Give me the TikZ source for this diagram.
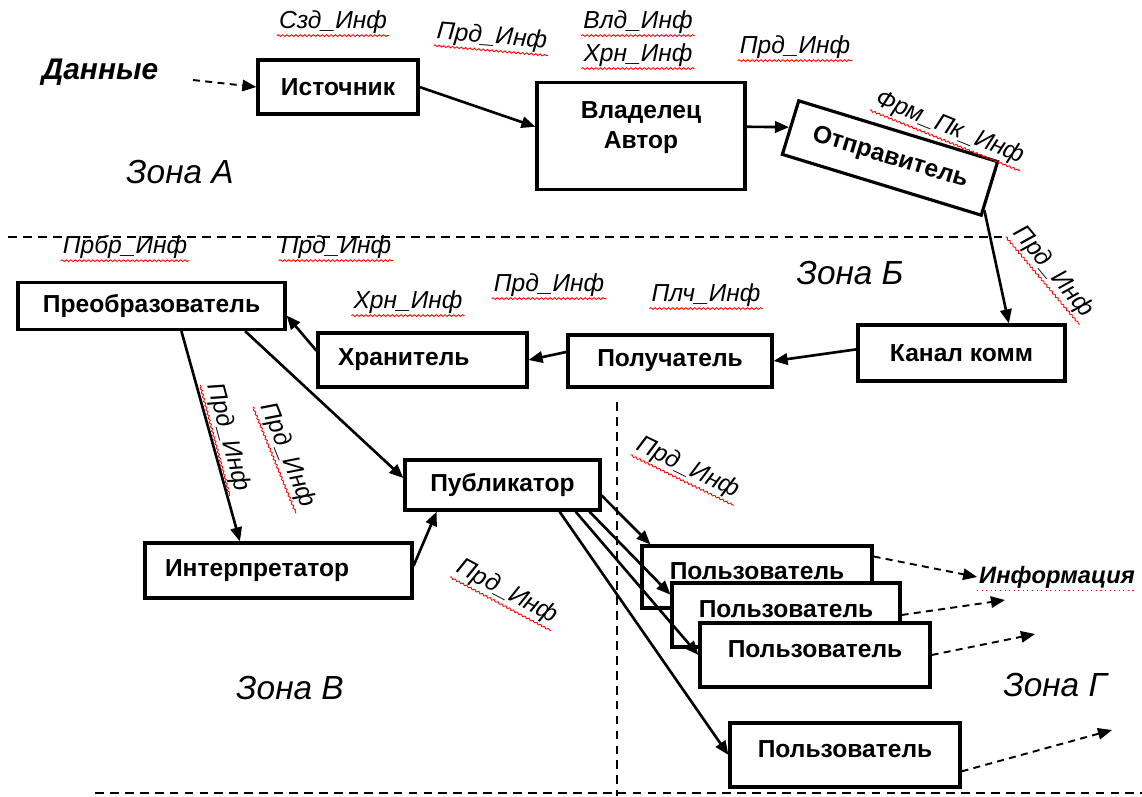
\documentclass[tikz,border=0pt]{standalone}
\usepackage{fontspec}
\setmainfont{Liberation Sans}
\usetikzlibrary{arrows.meta}
\usetikzlibrary{decorations.pathmorphing}

\begin{document}
\begin{tikzpicture}[
			     x=0.02cm, y=-0.02cm,
			     >={Triangle[length=8pt,width=6.5pt]},
			     blok/.style={draw, fill=white, line width=1.8pt, inner xsep=0.4cm,
			       font=\fontsize{14}{17}\selectfont\bfseries},
			     metka/.style={font=\fontsize{14}{16}\selectfont\itshape, inner sep=1pt,
			       append after command={(\tikzlastnode.south west) edge[draw=red, line width=0.5pt,
			         decorate, decoration={snake, amplitude=0.5pt, segment length=2.5pt}] (\tikzlastnode.south east)}},
			     zona/.style={font=\fontsize{19}{22}\selectfont\itshape},
			     potok/.style={->, line width=1.5pt},
			     vyhod/.style={->, dash pattern=on 4pt off 3pt, line width=1.1pt},
			     granica/.style={dash pattern=on 5pt off 3.5pt, line width=1.1pt}
			     ]
\useasboundingbox (0,0) rectangle (1142,796);
% zone A
\node[font=\fontsize{17}{20}\selectfont\bfseries\itshape] (dannye) at (100,72) {Данные};
\node[blok, minimum width=3.2cm, minimum height=1.08cm] (istochnik) at (338,87) {Источник};
\node[blok, minimum width=4.16cm, minimum height=2.14cm, align=center, text depth=0.45cm] (vladelec) at (641,136) {Владелец\\Автор};
\node[blok, rotate=-17, minimum width=4.16cm, minimum height=1.12cm] (otpravitel) at (890,158) {Отправитель};
% zone B
\node[blok, minimum width=4.14cm, minimum height=1.12cm] (kanal) at (961.5,353) {Канал комм};
\node[blok, minimum width=4.08cm, minimum height=1.04cm] (poluchatel) at (670,361) {Получатель};
\node[blok, minimum width=4.18cm, minimum height=1.08cm, text width=3.38cm, align=left] (hranitel) at (422.5,360) {Хранитель};
\node[blok, minimum width=5.34cm, minimum height=0.94cm] (preobr) at (151.5,306) {Преобразователь};
% zone V
\node[blok, minimum width=3.9cm, minimum height=1.0cm] (publ) at (502.5,485) {Публикатор};
\node[blok, minimum width=5.34cm, minimum height=1.1cm, text width=4.54cm, align=left] (interp) at (278.5,570.5) {Интерпретатор};
% zone G
\node[blok, minimum width=4.6cm, minimum height=1.24cm, text height=9pt, text depth=6pt] (u1) at (757,577) {Пользователь};
\node[blok, minimum width=4.56cm, minimum height=1.28cm, text height=9pt, text depth=6pt] (u2) at (786,615) {Пользователь};
\node[blok, minimum width=4.6cm, minimum height=1.28cm, text height=9pt, text depth=6pt] (u3) at (815,655) {Пользователь};
\node[blok, minimum width=4.6cm, minimum height=1.28cm, text height=9pt, text depth=6pt] (u4) at (845,755) {Пользователь};
\node[font=\fontsize{13.5}{16}\selectfont\bfseries\itshape, inner sep=1pt,
      append after command={(\tikzlastnode.south west) edge[draw=red, line width=0.6pt, dotted] (\tikzlastnode.south east)}] (info) at (1057,577) {Информация};

% labels
\node[metka] (l-szd) at (333,22) {Сзд\_Инф};
\node[metka, rotate=-5] (l-prd1) at (492,37) {Прд\_Инф};
\node[metka] (l-vld) at (638,22) {Влд\_Инф};
\node[metka] (l-hrn1) at (638,55) {Хрн\_Инф};
\node[metka] (l-prd2) at (795,47) {Прд\_Инф};
\node[metka, rotate=-22] (l-frm) at (950,128) {Фрм\_Пк\_Инф};
\node[metka, rotate=-50] (l-prd3) at (1053,272) {Прд\_Инф};
\node[metka] (l-prbr) at (125,247) {Прбр\_Инф};
\node[metka] (l-prd4) at (336,247) {Прд\_Инф};
\node[metka] (l-hrn2) at (408,302) {Хрн\_Инф};
\node[metka] (l-prd5) at (549,285) {Прд\_Инф};
\node[metka] (l-plch) at (706,295) {Плч\_Инф};
\node[metka, rotate=-75] (l-prd6) at (228,437) {Прд\_Инф};
\node[metka, rotate=-68] (l-prd7) at (287,455) {Прд\_Инф};
\node[metka, rotate=-28] (l-prd8) at (507,592) {Прд\_Инф};
\node[metka, rotate=-26] (l-prd9) at (688,468) {Прд\_Инф};

\node[zona] (zona-a) at (180,172) {Зона А};
\node[zona] (zona-b) at (850,273) {Зона Б};
\node[zona] (zona-v) at (290,688) {Зона В};
\node[zona] (zona-g) at (1055,685) {Зона Г};

% borders
\coordinate (gr1) at (8,237);
\coordinate (gr2) at (1003,237);
\coordinate (gr3) at (617,402);
\coordinate (gr4) at (617,796);
\coordinate (gr5) at (95,793);
\coordinate (gr6) at (1142,793);
\draw[granica] (gr1) -- (gr2);
\draw[granica] (gr3) -- (gr4);
\draw[granica] (gr5) -- (gr6);

% flows
\coordinate (d0) at (193,80);
\coordinate (e2) at (1005,600);
\coordinate (e3) at (1035,634);
\coordinate (e4) at (1112,730);
\draw[vyhod] (d0) -- (istochnik.west);
\path (istochnik.east) edge[potok] (vladelec.175);
\path (vladelec.5) edge[potok] (otpravitel.west);
\path (otpravitel.-12) edge[potok] (kanal.32);
\path (kanal.178) edge[potok] (poluchatel.east);
\path (poluchatel.175) edge[potok] (hranitel.east);
\path (hranitel.175) edge[potok] (preobr.-4);
\path (preobr.-40) edge[potok] (interp.143);
\path (preobr.-15) edge[potok] (publ.176);
\path (interp.2) edge[potok] (publ.202);
\path (publ.-6) edge[potok] (u1.163);
\path (publ.-17) edge[potok] (u2.170);
\path (publ.-20) edge[potok] (u3.west);
\path (publ.-25) edge[potok] (u4.west);
\draw[vyhod] (u1.10) -- (info.west);
\draw[vyhod] (u2.east) -- (e2);
\draw[vyhod] (u3.east) -- (e3);
\draw[vyhod] (u4.-8) -- (e4);
\end{tikzpicture}
\end{document}
